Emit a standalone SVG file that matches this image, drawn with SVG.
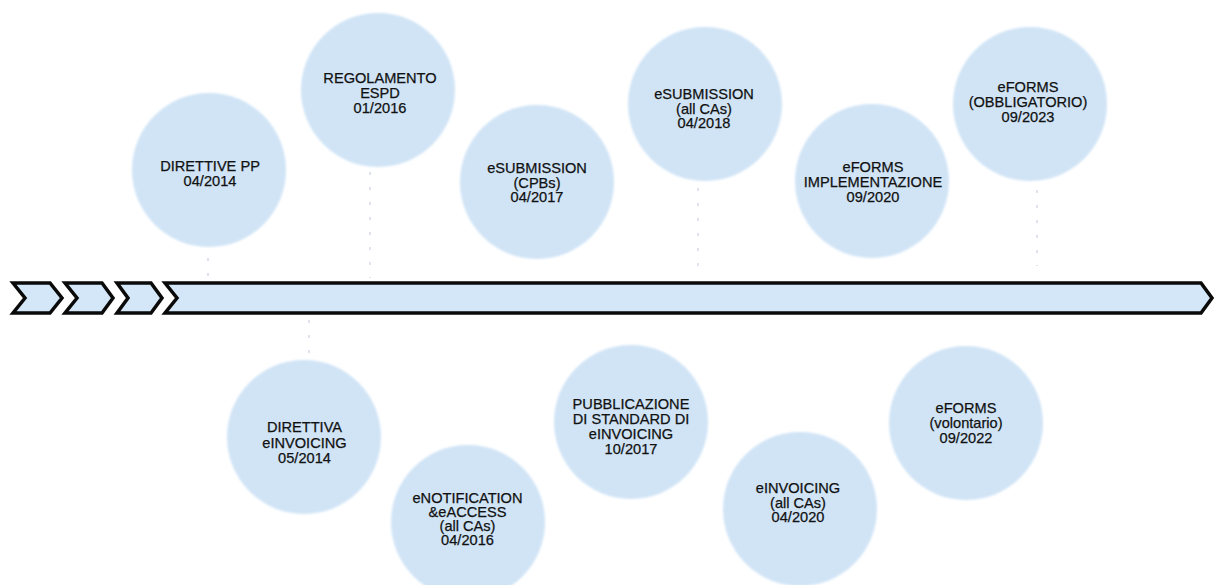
<svg xmlns="http://www.w3.org/2000/svg" width="1215" height="585" viewBox="0 0 1215 585">
  <defs>
    <filter id="soft" x="-5%" y="-5%" width="110%" height="110%">
      <feGaussianBlur stdDeviation="0.9"/>
    </filter>
  </defs>
  <style>
    .bubble { fill: #d0e4f6; filter: url(#soft); }
    .label { font-family: "Liberation Sans", Arial, Helvetica, sans-serif; font-size: 14.6px; fill: #111111; stroke: #111111; stroke-width: 0.25; text-anchor: middle; }
    .chev { fill: #d3e7f8; stroke: #0a0a0a; stroke-width: 3.5; stroke-linejoin: miter; }
    .tick { stroke: #dfe3ef; stroke-width: 2; stroke-dasharray: 3 12; fill: none; }
  </style>

  <rect width="1215" height="585" fill="#ffffff"/>

  <!-- faint dotted ticks tying milestones to the timeline -->
  <g id="connectors">
    <line class="tick" x1="208" y1="258" x2="208" y2="276"/>
    <line class="tick" x1="370" y1="172" x2="370" y2="278"/>
    <line class="tick" x1="698" y1="188" x2="698" y2="268"/>
    <line class="tick" x1="1037" y1="190" x2="1037" y2="266"/>
    <line class="tick" x1="309" y1="320" x2="309" y2="356"/>
  </g>

  <!-- timeline: three chevrons followed by the long arrow -->
  <g id="timeline">
    <polygon class="chev" points="13,283 50,283 62,298 50,313 13,313 25,298"/>
    <polygon class="chev" points="65,283 102,283 113,298 102,313 65,313 77,298"/>
    <polygon class="chev" points="117,283 151,283 162,298 151,313 117,313 128,298"/>
    <polygon class="chev" points="165,283 1201,283 1212,298 1201,313 165,313 177,298"/>
  </g>

  <!-- milestones above the timeline -->
  <g id="direttive-pp">
    <circle class="bubble" cx="209" cy="170" r="77"/>
    <text class="label" x="210" y="171">DIRETTIVE PP</text>
    <text class="label" x="210" y="185.5">04/2014</text>
  </g>
  <g id="regolamento-espd">
    <circle class="bubble" cx="378" cy="90" r="77"/>
    <text class="label" x="380" y="83">REGOLAMENTO</text>
    <text class="label" x="380" y="98">ESPD</text>
    <text class="label" x="380" y="113">01/2016</text>
  </g>
  <g id="esubmission-cpbs">
    <circle class="bubble" cx="537" cy="182" r="77"/>
    <text class="label" x="537" y="173">eSUBMISSION</text>
    <text class="label" x="537" y="187.5">(CPBs)</text>
    <text class="label" x="537" y="202">04/2017</text>
  </g>
  <g id="esubmission-all">
    <circle class="bubble" cx="705" cy="104" r="77"/>
    <text class="label" x="704" y="99">eSUBMISSION</text>
    <text class="label" x="704" y="113.5">(all CAs)</text>
    <text class="label" x="704" y="128">04/2018</text>
  </g>
  <g id="eforms-implementazione">
    <circle class="bubble" cx="872" cy="181" r="77"/>
    <text class="label" x="873" y="172">eFORMS</text>
    <text class="label" x="873" y="187">IMPLEMENTAZIONE</text>
    <text class="label" x="873" y="202">09/2020</text>
  </g>
  <g id="eforms-obbligatorio">
    <circle class="bubble" cx="1030" cy="104" r="77"/>
    <text class="label" x="1028" y="92">eFORMS</text>
    <text class="label" x="1028" y="107">(OBBLIGATORIO)</text>
    <text class="label" x="1028" y="122">09/2023</text>
  </g>

  <!-- milestones below the timeline -->
  <g id="direttiva-einvoicing">
    <circle class="bubble" cx="304" cy="437" r="77"/>
    <text class="label" x="304.5" y="432">DIRETTIVA</text>
    <text class="label" x="304.5" y="447.5">eINVOICING</text>
    <text class="label" x="304.5" y="463">05/2014</text>
  </g>
  <g id="enotification-eaccess">
    <circle class="bubble" cx="468" cy="522" r="77"/>
    <text class="label" x="467.5" y="502.5">eNOTIFICATION</text>
    <text class="label" x="467.5" y="516.5">&amp;eACCESS</text>
    <text class="label" x="467.5" y="530.5">(all CAs)</text>
    <text class="label" x="467.5" y="545">04/2016</text>
  </g>
  <g id="pubblicazione-standard">
    <circle class="bubble" cx="631" cy="422" r="77"/>
    <text class="label" x="631" y="409">PUBBLICAZIONE</text>
    <text class="label" x="631" y="424">DI STANDARD DI</text>
    <text class="label" x="631" y="439">eINVOICING</text>
    <text class="label" x="631" y="454">10/2017</text>
  </g>
  <g id="einvoicing-all">
    <circle class="bubble" cx="800" cy="509" r="77"/>
    <text class="label" x="798" y="493">eINVOICING</text>
    <text class="label" x="798" y="507.5">(all CAs)</text>
    <text class="label" x="798" y="522">04/2020</text>
  </g>
  <g id="eforms-volontario">
    <circle class="bubble" cx="966" cy="423" r="77"/>
    <text class="label" x="966" y="413">eFORMS</text>
    <text class="label" x="966" y="428">(volontario)</text>
    <text class="label" x="966" y="443">09/2022</text>
  </g>
</svg>
